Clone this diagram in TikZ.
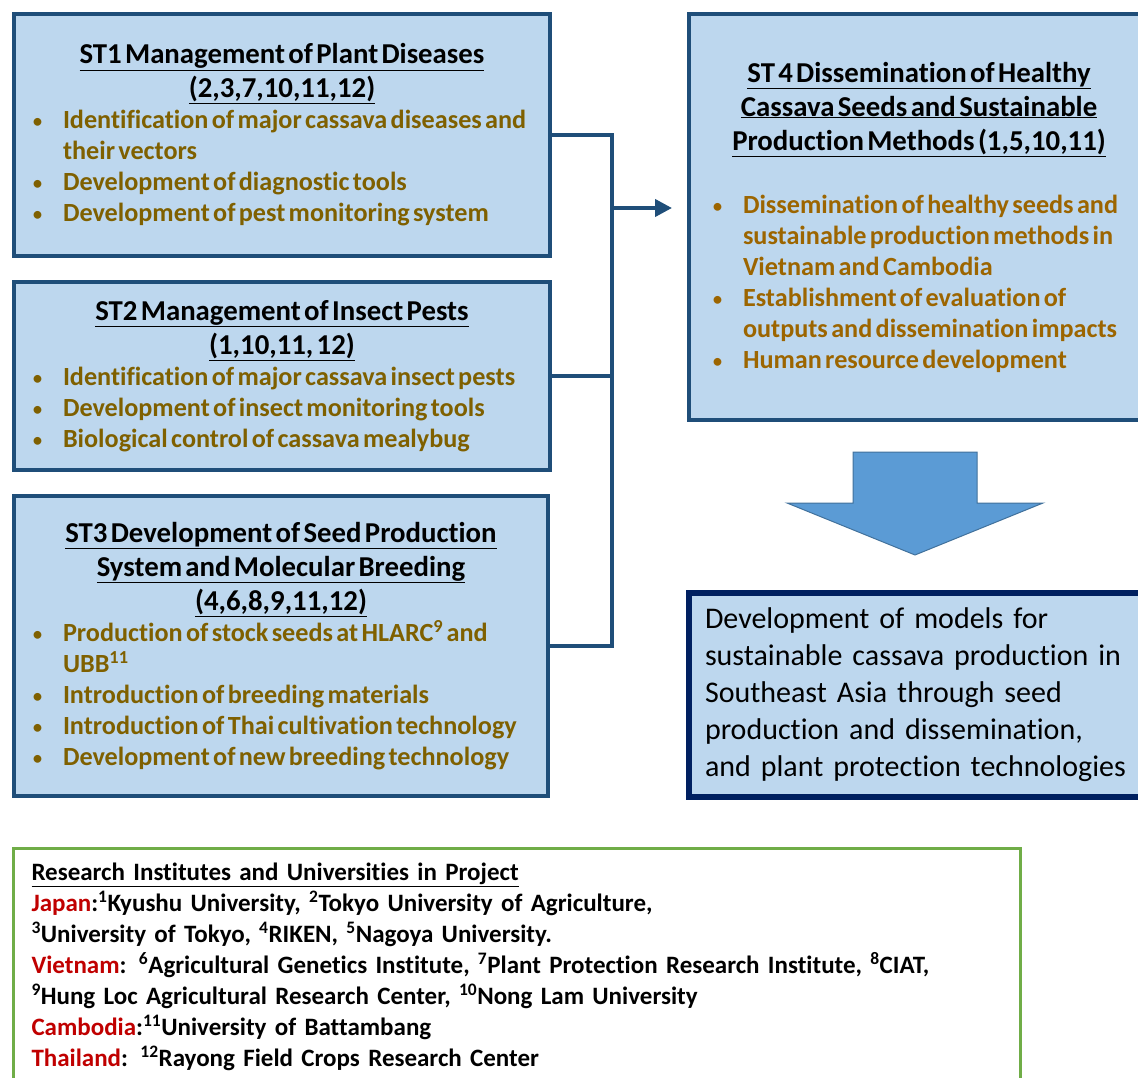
\documentclass[tikz,border=0pt]{standalone}
\usepackage{fontspec}
\setmainfont{Carlito}[Ligatures=NoCommon,BoldFeatures={WordSpace=1.15}]
\usepackage{xcolor}
\usepackage{tikz}
\usetikzlibrary{positioning,arrows.meta}

\definecolor{boxfill}{HTML}{BDD7EE}
\definecolor{boxline}{HTML}{1F4E79}
\definecolor{goalline}{HTML}{002060}
\definecolor{itemtext}{HTML}{7F6000}
\definecolor{itemtextb}{HTML}{9C6500}
\definecolor{arrowfill}{HTML}{5B9BD5}
\definecolor{arrowline}{HTML}{41719C}
\definecolor{listline}{HTML}{70AD47}
\definecolor{country}{HTML}{C00000}

\newcommand{\titlefont}{\fontsize{28.8}{34}\selectfont\bfseries}
\newcommand{\itemfont}{\fontsize{26.2}{31}\selectfont\bfseries\hyphenpenalty=10000}
\newcommand{\bitem}[1]{\par\noindent\hangindent=34pt\hangafter=1\makebox[34pt][l]{\hspace{3pt}{\mdseries\fontsize{22}{22}\selectfont\textbullet}}#1}

\begin{document}
\begin{tikzpicture}[x=1pt,y=-1pt,
    stbox/.style={draw=boxline,line width=4pt,fill=boxfill,anchor=north west,align=left,inner xsep=15pt,inner ysep=0pt},
    link/.style={draw=boxline,line width=4pt}]
    \useasboundingbox (0,0) rectangle (1138,1078);

    \node [stbox,minimum width=536pt,minimum height=242pt,text width=506pt] (st1) at (12,12) {%
      {\centering\titlefont\underline{ST1 Management of Plant Diseases}\\\underline{(2,3,7,10,11,12)}\par}
      \itemfont\color{itemtext}
      \bitem{Identification of major cassava diseases and\newline their vectors}
      \bitem{Development of diagnostic tools}
      \bitem{Development of pest monitoring system}\par};
    \node [stbox,minimum width=536pt,minimum height=188pt,text width=506pt] (st2) at (12,280) {%
      {\centering\titlefont\underline{ST2 Management of Insect Pests}\\\underline{(1,10,11, 12)}\par}
      \itemfont\color{itemtext}
      \bitem{Identification of major cassava insect pests}
      \bitem{Development of insect monitoring tools}
      \bitem{Biological control of cassava mealybug}\par};
    \node [stbox,minimum width=534pt,minimum height=300pt,text width=504pt] (st3) at (12,494) {%
      {\centering\titlefont\underline{ST3 Development of Seed Production}\\\underline{System and Molecular Breeding}\\\underline{(4,6,8,9,11,12)}\par}
      \itemfont\color{itemtext}
      \bitem{Production of stock seeds at HLARC\textsuperscript{9} and\newline UBB\textsuperscript{11}}
      \bitem{Introduction of breeding materials}
      \bitem{Introduction of Thai cultivation technology}
      \bitem{Development of new breeding technology}\par};
    \node [stbox,minimum width=460pt,minimum height=406pt,text width=420pt,inner xsep=20pt] (st4) at (687,12) {%
      {\centering\titlefont\underline{ST 4 Dissemination of Healthy}\\\underline{Cassava Seeds and Sustainable}\\\underline{Production Methods (1,5,10,11)}\par}
      \vspace{32pt}
      \itemfont\color{itemtextb}
      \bitem{Dissemination of healthy seeds and\newline sustainable production methods in\newline Vietnam and Cambodia}
      \bitem{Establishment of evaluation of\newline outputs and dissemination impacts}
      \bitem{Human resource development}\par};

    % connectors into ST4
    \draw[link] (st1.east) -- ++(60,0) coordinate (bus) |- (st3.east);
    \draw[link] (st2.east) -- (st2.east -| bus);
    \coordinate (tip) at (672,208);
    \draw[link,-{Triangle[length=17pt,width=17pt]}] (bus |- tip) -- (tip);

    % big arrow
    \draw[arrowline,fill=arrowfill,line width=1pt]
      (853,452) -- (977,452) -- (977,503) -- (1043,503) -- (915,555) -- (787,503) -- (853,503) -- cycle;

    \node [stbox,draw=goalline,line width=6pt,minimum width=464pt,minimum height=204pt,text width=432pt,inner xsep=16pt,
      font=\fontsize{30}{37}\selectfont\mdseries] (goal) at (686,590) {%
      Development of models for\\sustainable cassava production in\\Southeast Asia through seed\\production and dissemination,\\and plant protection technologies};

    \node [draw=listline,line width=3pt,anchor=north west,align=left,minimum width=1007pt,text width=970pt,
      inner xsep=18.5pt,inner ysep=15pt,font=\fontsize{25}{31}\selectfont\bfseries] (members) at (11.5,846.5) {%
      \underline{Research Institutes and Universities in Project}\\
      \textcolor{country}{Japan}:\textsuperscript{1}Kyushu University, \textsuperscript{2}Tokyo University of Agriculture,\\
      \textsuperscript{3}University of Tokyo, \textsuperscript{4}RIKEN, \textsuperscript{5}Nagoya University.\\
      \textcolor{country}{Vietnam}: \textsuperscript{6}Agricultural Genetics Institute, \textsuperscript{7}Plant Protection Research Institute, \textsuperscript{8}CIAT,\\
      \textsuperscript{9}Hung Loc Agricultural Research Center, \textsuperscript{10}Nong Lam University\\
      \textcolor{country}{Cambodia}:\textsuperscript{11}University of Battambang\\
      \textcolor{country}{Thailand}: \textsuperscript{12}Rayong Field Crops Research Center};
\end{tikzpicture}
\end{document}
